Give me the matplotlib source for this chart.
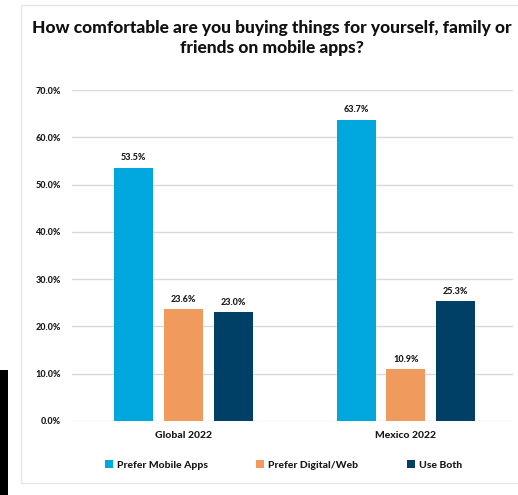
import numpy as np
import matplotlib
matplotlib.use("Agg")
from matplotlib import pyplot as plt
from matplotlib.patches import Rectangle

# Data
groups = ["Global 2022", "Mexico 2022"]
series = ["Prefer Mobile Apps", "Prefer Digital/Web", "Use Both"]
mobile = [53.5, 63.7]
digital = [23.6, 10.9]
both = [23.0, 25.3]
yticks = [0, 10, 20, 30, 40, 50, 60, 70]

colors = ["#00A6DE", "#F09A5E", "#003F66"]
plt.rcParams['font.family'] = ['Lato', 'DejaVu Sans']
W = "black"

fig = plt.figure(figsize=(5.18, 4.95), dpi=100)
ax = fig.add_axes([0.139, 0.1495, 0.851, 0.6685])

x = np.arange(len(groups))
width = 0.175
step = 0.224
for i, (vals, name) in enumerate(zip([mobile, digital, both], series)):
    pos = x + (i - 1) * step
    bars = ax.bar(pos, vals, width, color=colors[i], label=name, zorder=3)
    for b, v in zip(bars, vals):
        ax.text(b.get_x() + b.get_width() / 2, v + 1.2, "%.1f%%" % v,
                ha="center", va="bottom", fontsize=6.5, fontweight=W,
                color="#1a1a1a")

ax.set_xlim(-0.5, 1.48)
ax.set_ylim(0, 70)
ax.set_yticks(yticks)
ax.set_yticklabels(["%.1f%%" % t for t in yticks], fontsize=6.5,
                   fontweight=W, color="#1a1a1a")
ax.set_xticks(x)
ax.set_xticklabels(groups, fontsize=7.5, fontweight=W, color="#1a1a1a")
ax.tick_params(length=0, axis="y", pad=8)
ax.tick_params(length=0, axis="x", pad=7)
ax.grid(axis="y", color="#d9d9d9", linewidth=1, zorder=0)
for s in ax.spines.values():
    s.set_visible(False)

fig.text(0.525, 0.96, "How comfortable are you buying things for yourself, family or\nfriends on mobile apps?",
         ha="center", va="top", fontsize=12.5, fontweight=W,
         color="#111111", linespacing=1.35)

leg = fig.legend(loc="center", bbox_to_anchor=(0.547, 0.06), ncol=3,
                 frameon=False, fontsize=7.5, handlelength=0.8,
                 handleheight=0.8, columnspacing=4.6, handletextpad=0.4)
for t in leg.get_texts():
    t.set_fontweight(W)
    t.set_color("#1a1a1a")

# card frame and screenshot artifact
fig.patches.append(Rectangle((0.04, 0.025), 1.0, 0.965, transform=fig.transFigure,
                             fill=False, edgecolor="#e6e6e6", linewidth=1))
fig.patches.append(Rectangle((0, 0), 0.015, 0.252, transform=fig.transFigure,
                             facecolor="black", edgecolor="none"))

fig.savefig("out.png", dpi=100)
